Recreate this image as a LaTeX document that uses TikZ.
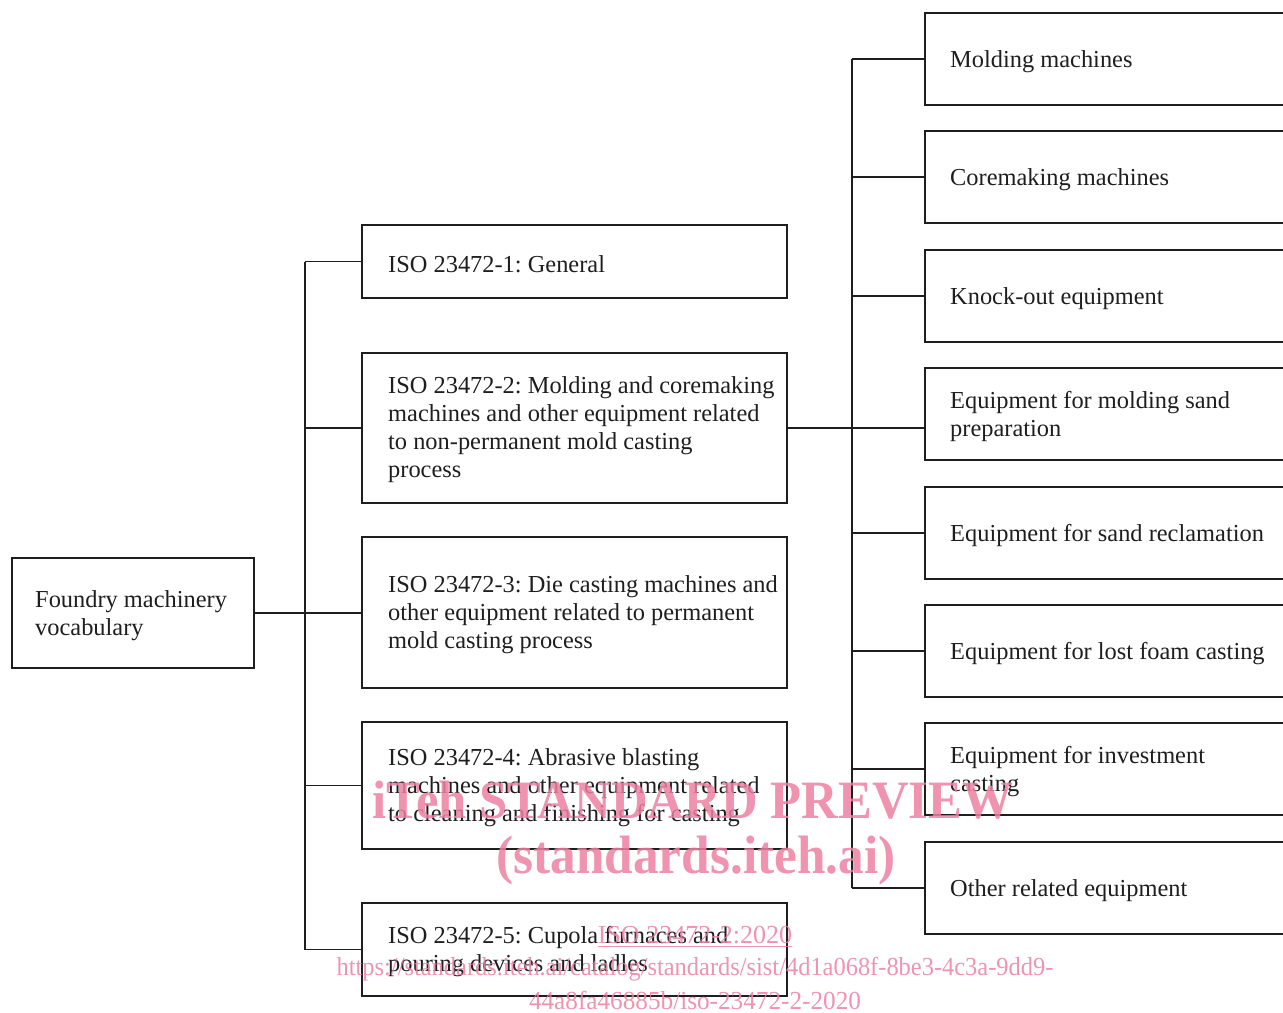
\documentclass[tikz,border=0pt]{standalone}
\usepackage{fontspec}
\setmainfont{Liberation Serif}
\usepackage{tikz}
\frenchspacing
\definecolor{ink}{RGB}{30,30,30}
\definecolor{wmark}{RGB}{236,128,162}
\tikzset{
  box/.style={draw=ink, line width=1.2pt, minimum width=212.5pt, inner sep=0pt},
  rbox/.style={box, minimum width=187.5pt, minimum height=46pt},
  txt/.style={anchor=west, align=left, inner sep=0pt, text=ink, font=\fontsize{12.2}{14}\selectfont},
  link/.style={draw=ink, line width=0.6pt},
  wm/.style={text=wmark, text opacity=0.85, inner sep=0pt}
}

\begin{document}
\begin{tikzpicture}[x=0.5pt, y=-0.5pt]
      \useasboundingbox (0,0) rectangle (1283,1012);
      \node[box, minimum width=121pt, minimum height=55pt] (voc) at (133,613) {};
      \node[txt]                       (tvoc) at ([xshift=12pt,yshift=-1.2pt]voc.west) {Foundry machinery\\vocabulary};
      \node[box, minimum height=36.5pt] (p1)  at (574.5,261.5) {};
      \node[box, minimum height=75pt]   (p2)  at (574.5,428) {};
      \node[box, minimum height=75.5pt] (p3)  at (574.5,612.5) {};
      \node[box, minimum height=63.5pt] (p4)  at (574.5,785.5) {};
      \node[box, minimum height=46.5pt] (p5)  at (574.5,949.5) {};
      \node[txt] (tp1) at ([xshift=13.5pt,yshift=-1.2pt]p1.west) {ISO 23472-1: General};
      \node[txt] (tp2) at ([xshift=13.5pt,yshift=-0.7pt]p2.west) {ISO 23472-2: Molding and coremaking\\machines and other equipment related\\to non-permanent mold casting\\process};
      \node[txt] (tp3) at ([xshift=13.5pt,yshift=-1.2pt]p3.west) {ISO 23472-3: Die casting machines and\\other equipment related to permanent\\mold casting process};
      \node[txt] (tp4) at ([xshift=13.5pt,yshift=-1.2pt]p4.west) {ISO 23472-4: Abrasive blasting\\machines and other equipment related\\to cleaning and finishing for casting};
      \node[txt] (tp5) at ([xshift=13.5pt,yshift=-1.2pt]p5.west) {ISO 23472-5: Cupola furnaces and\\pouring devices and ladles};
      \foreach \y/\n/\t in {59/1/Molding machines, 177/2/Coremaking machines, 296/3/Knock-out equipment,
                           414/4/Equipment for molding sand\\preparation, 533/5/Equipment for sand reclamation,
                           651/6/Equipment for lost foam casting, 769/7/Equipment for investment\\casting,
                           888/8/Other related equipment} {
        \node[rbox] (e\n)  at (1112.5,\y) {};
        \node[txt]  (te\n) at ([xshift=13pt,yshift=-1.2pt]e\n.west) {\t};
      }
      \coordinate (bus1) at (305,613);
      \coordinate (bus2) at (852,428);
      \path[link] (bus1 |- p1.west) -- (bus1 |- p5.west);
      \path[link] (voc.east) -- (voc.east -| p3.west);
      \foreach \k in {1,2,4,5}
        \path[link] (bus1 |- p\k.west) -- (p\k.west);
      \path[link] (bus2 |- e1.west) -- (bus2 |- e8.west);
      \path[link] (p2.east) -- (p2.east -| e4.west);
      \foreach \k in {1,2,3,5,6,7,8}
        \path[link] (bus2 |- e\k.west) -- (e\k.west);
      \node[wm, font=\bfseries\fontsize{27}{27}\selectfont, xscale=0.94] (w1) at (693,800) {iTeh STANDARD PREVIEW};
      \node[wm, font=\bfseries\fontsize{27}{27}\selectfont, xscale=0.95] (w2) at (696,860) {(standards.iteh.ai)};
      \node[wm, font=\fontsize{13}{13}\selectfont]               (w3) at (695,937) {\underline{ISO 23472-2:2020}};
      \node[wm, font=\fontsize{13}{13}\selectfont, xscale=0.94] (w4) at (695,969) {https://standards.iteh.ai/catalog/standards/sist/4d1a068f-8be3-4c3a-9dd9-};
      \node[wm, font=\fontsize{13}{13}\selectfont, xscale=0.97] (w5) at (695,1000) {44a8fa46885b/iso-23472-2-2020};
    \end{tikzpicture}
\end{document}
